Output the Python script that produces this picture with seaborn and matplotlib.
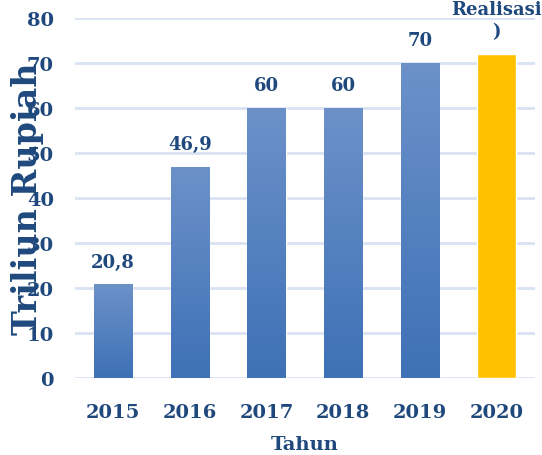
import matplotlib
matplotlib.use("Agg")
import matplotlib.pyplot as plt
import numpy as np
import pandas as pd
import seaborn as sns
from matplotlib.colors import LinearSegmentedColormap

years = ["2015", "2016", "2017", "2018", "2019", "2020"]
values = [20.8, 46.9, 60, 60, 70, 72]
labels = ["20,8", "46,9", "60", "60", "70", "72 (\nRealisasi\n)"]
yticks = [0, 10, 20, 30, 40, 50, 60, 70, 80]

text_color = "#1F497D"
grid_color = "#D9E2F3"
blue = "#4A7CC0"
gold = "#FFC000"

sns.set_theme(style="white")
plt.rcParams['font.family'] = ['DejaVu Serif']
plt.rcParams['font.weight'] = 'bold'

df = pd.DataFrame({"Tahun": years, "Nilai": values})

fig = plt.figure(figsize=(5.42, 4.56), dpi=100)
ax = fig.add_axes([0.138, 0.169, 0.849, 0.789])

palette = [blue] * 5 + [gold]
sns.barplot(data=df, x="Tahun", y="Nilai", hue="Tahun", palette=palette,
            width=0.5, saturation=1, legend=False, ax=ax, zorder=3)

# vertical gradient on the blue bars
grad = LinearSegmentedColormap.from_list("g", ["#3E71B6", "#6C91C9"])
for i, p in enumerate(ax.patches[:5]):
    x0, y0 = p.get_x(), p.get_y()
    w, h = p.get_width(), p.get_height()
    im = ax.imshow(np.linspace(0, 1, 100).reshape(-1, 1), cmap=grad,
                   aspect="auto", origin="lower",
                   extent=[x0, x0 + w, y0, y0 + h], zorder=4)
    im.set_clip_path(p)

ax.set_xlim(-0.5, 5.5)
ax.set_ylim(0, 80)
ax.set_yticks(yticks)
ax.yaxis.grid(True, color=grid_color, lw=2, zorder=0)
ax.set_axisbelow(True)
for s in ax.spines.values():
    s.set_visible(False)
ax.tick_params(axis="both", length=0, labelsize=14, labelcolor=text_color)
ax.tick_params(axis="x", pad=18)
ax.tick_params(axis="y", pad=15)
for t in ax.get_xticklabels() + ax.get_yticklabels():
    t.set_fontweight("bold")

for i, (v, lab) in enumerate(zip(values, labels)):
    ax.annotate(lab, (i, v), xytext=(0, 10), textcoords="offset points",
                ha="center", va="bottom", fontsize=13, fontweight="bold",
                color=text_color, annotation_clip=False,
                linespacing=1.3)

ax.set_xlabel("Tahun", fontsize=14, fontweight="bold", color=text_color, labelpad=10)
ax.set_ylabel("Triliun Rupiah", fontsize=24, fontweight="bold", color=text_color)
ax.yaxis.set_label_coords(-0.067, 0.5)

fig.savefig("out.png", dpi=100)
